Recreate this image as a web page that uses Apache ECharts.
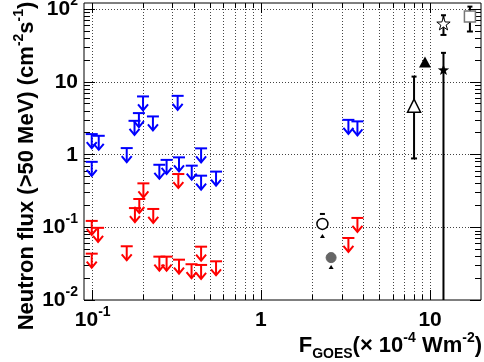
<!DOCTYPE html>
<html><head><meta charset="utf-8">
<script src="https://cdn.jsdelivr.net/npm/echarts@6/dist/echarts.min.js"></script>
<style>html,body{margin:0;padding:0;background:#fff}#c{width:484px;height:362px}</style>
</head><body><div id="c"></div>
<script>
// ---- data ----
const blueX = [0.100, 0.110, 0.100, 0.161, 0.201, 0.190, 0.179, 0.230, 0.322, 0.251, 0.277, 0.328, 0.390, 0.443, 0.443, 0.543, 3.29, 3.72];
const blueY = [1.90, 1.80, 0.79, 1.22, 6.25, 3.69, 2.89, 3.32, 6.37, 0.72, 0.84, 0.91, 0.70, 1.21, 0.51, 0.58, 2.98, 2.84];
const redX = [0.100, 0.109, 0.100, 0.161, 0.202, 0.191, 0.180, 0.231, 0.325, 0.251, 0.277, 0.328, 0.389, 0.443, 0.443, 0.543, 3.29, 3.72];
const redY = [0.122, 0.098, 0.0433, 0.0547, 0.40, 0.244, 0.183, 0.178, 0.537, 0.0394, 0.0394, 0.0358, 0.031, 0.054, 0.0303, 0.034, 0.0711, 0.134];

const pointMarker = ['openCircle', 'grayCircle', 'openTriangle', 'filledTriangle', 'filledStar', 'openStar', 'openSquare'];
const pointX = [2.31, 2.60, 8.04, 9.33, 12.0, 12.0, 17.2];
const pointY = [0.111, 0.0382, 4.6, 18.3, 14.3, 61.3, 78.2];
const pointLow = [0.0745, 0.028, 0.88, null, 0.001, 43.7, 48.7];
const pointHigh = [0.152, 0.043, 11.7, null, 24.8, 81.5, 107];

// ---- axes ----
const xMin = 0.09, xMax = 20, yMin = 0.01, yMax = 120;
const xMajor = [0.1, 1, 10];
const xLabelBase = ['10', '1', '10'];
const xLabelExp = ['-1', '', ''];
const xMinor = [0.2, 0.3, 0.4, 0.5, 0.6, 0.7, 0.8, 0.9, 2, 3, 4, 5, 6, 7, 8, 9];
const yMajor = [0.01, 0.1, 1, 10, 100];
const yLabelBase = ['10', '10', '1', '10', '10'];
const yLabelExp = ['-2', '-1', '', '', '2'];
const yMinor = [0.02, 0.03, 0.04, 0.05, 0.06, 0.07, 0.08, 0.09, 0.2, 0.3, 0.4, 0.5, 0.6, 0.7, 0.8, 0.9, 2, 3, 4, 5, 6, 7, 8, 9, 20, 30, 40, 50, 60, 70, 80, 90];
const xGrid = [0.1, 0.2, 0.3, 0.4, 0.5, 0.6, 0.7, 0.8, 0.9, 1, 2, 3, 4, 5, 6, 7, 8, 9, 10];
const yGrid = [0.1, 1, 10, 100];

const FONT = '"Liberation Sans", Arial, Helvetica, sans-serif';
const BLUE = '#0000ff', RED = '#ff0000';

function crisp(v) { return Math.round(v) + 0.5; }

function renderAxes(params, api) {
  const cs = params.coordSys;
  const L = cs.x, T = cs.y, R = cs.x + cs.width, B = cs.y + cs.height;
  const ch = [];
  const ln = (x1, y1, x2, y2, st) => ch.push({ type: 'line', shape: { x1, y1, x2, y2 }, style: st });
  const gridSt = { stroke: '#444', lineWidth: 1, lineDash: [1, 2] };
  const tickSt = { stroke: '#000', lineWidth: 1 };
  xGrid.forEach(v => { const p = crisp(api.coord([v, 1])[0]); ln(p, T, p, B, gridSt); });
  yGrid.forEach(v => { const p = crisp(api.coord([1, v])[1]); ln(L, p, R, p, gridSt); });
  xMajor.forEach(v => { const p = crisp(api.coord([v, 1])[0]); ln(p, B, p, B - 10, tickSt); ln(p, T, p, T + 10, tickSt); });
  xMinor.forEach(v => { const p = crisp(api.coord([v, 1])[0]); ln(p, B, p, B - 5, tickSt); ln(p, T, p, T + 5, tickSt); });
  yMajor.forEach(v => { const p = crisp(api.coord([1, v])[1]); ln(L, p, L + 11, p, tickSt); ln(R, p, R - 11, p, tickSt); });
  yMinor.forEach(v => { const p = crisp(api.coord([1, v])[1]); ln(L, p, L + 6, p, tickSt); ln(R, p, R - 6, p, tickSt); });
  const rich = {
    b: { fontSize: 21, fontWeight: 'bold', fontFamily: FONT, fill: '#000', lineHeight: 30 },
    s: { fontSize: 14, fontWeight: 'bold', fontFamily: FONT, fill: '#000', lineHeight: 14, verticalAlign: 'top' }
  };
  xMajor.forEach((v, i) => {
    const p = api.coord([v, 1])[0];
    const t = xLabelExp[i] ? `{b|${xLabelBase[i]}}{s|${xLabelExp[i]}}` : `{b|${xLabelBase[i]}}`;
    ch.push({ type: 'text', x: p + (xLabelExp[i] ? 1 : 0), y: B + 20, style: { text: t, rich, align: 'center', verticalAlign: 'middle', fill: '#000' } });
  });
  yMajor.forEach((v, i) => {
    const p = api.coord([1, v])[1];
    const t = yLabelExp[i] ? `{b|${yLabelBase[i]}}{s|${yLabelExp[i]}}` : `{b|${yLabelBase[i]}}`;
    ch.push({ type: 'text', x: 78, y: p + (yLabelExp[i] ? 0 : 1), style: { text: t, rich, align: 'right', verticalAlign: 'middle', fill: '#000' } });
  });
  return { type: 'group', children: ch };
}

function arrowRenderer(color) {
  return function (params, api) {
    const c = api.coord([api.value(0), api.value(1)]);
    const x = c[0], y = c[1];
    const st = { stroke: color, lineWidth: 2, fill: null };
    return {
      type: 'group', children: [
        { type: 'line', shape: { x1: x - 6, y1: y, x2: x + 6, y2: y }, style: st },
        { type: 'line', shape: { x1: x, y1: y, x2: x, y2: y + 14 }, style: st },
        { type: 'polyline', shape: { points: [[x - 5, y + 8], [x, y + 14], [x + 5, y + 8]] }, style: st }
      ]
    };
  };
}

function starPoints(cx, cy, R) {
  const r = R * 0.40, pts = [];
  for (let k = 0; k < 10; k++) {
    const a = -Math.PI / 2 + k * Math.PI / 5;
    const rr = k % 2 ? r : R;
    pts.push([cx + rr * Math.cos(a), cy + rr * Math.sin(a)]);
  }
  return pts;
}

function renderPoints(params, api) {
  const i = params.dataIndex;
  const c = api.coord([api.value(0), api.value(1)]);
  const x = c[0], y = c[1];
  const kind = pointMarker[i];
  const ch = [];
  const est = { stroke: '#000', lineWidth: 2 };
  const lo = pointLow[i], hi = pointHigh[i];
  const isCircle = kind === 'openCircle' || kind === 'grayCircle';
  if (lo != null && hi != null) {
    const yl = api.coord([api.value(0), lo])[1];
    const yh = api.coord([api.value(0), hi])[1];
    if (!isCircle) ch.push({ type: 'line', shape: { x1: x, y1: yh, x2: x, y2: yl }, style: est });
    ch.push({ type: 'line', shape: { x1: x - 2.5, y1: yh, x2: x + 2.5, y2: yh }, style: est });
    if (isCircle) {
      ch.push({ type: 'polygon', shape: { points: [[x - 2.5, yl + 1.5], [x + 2.5, yl + 1.5], [x, yl - 2.5]] }, style: { fill: '#000' } });
    } else {
      ch.push({ type: 'line', shape: { x1: x - 3, y1: yl, x2: x + 3, y2: yl }, style: est });
    }
  }
  if (kind === 'openCircle') ch.push({ type: 'circle', shape: { cx: x, cy: y, r: 5.5 }, style: { fill: '#fff', stroke: '#000', lineWidth: 1.5 } });
  if (kind === 'grayCircle') ch.push({ type: 'circle', shape: { cx: x, cy: y, r: 5 }, style: { fill: '#666', stroke: '#666', lineWidth: 1 } });
  if (kind === 'openTriangle') ch.push({ type: 'polygon', shape: { points: [[x, y - 7], [x - 6.5, y + 6], [x + 6.5, y + 6]] }, style: { fill: '#fff', stroke: '#000', lineWidth: 1.5 } });
  if (kind === 'filledTriangle') ch.push({ type: 'polygon', shape: { points: [[x, y - 6], [x - 6, y + 5], [x + 6, y + 5]] }, style: { fill: '#000' } });
  if (kind === 'filledStar') ch.push({ type: 'polygon', shape: { points: starPoints(x, y, 6) }, style: { fill: '#000' } });
  if (kind === 'openStar') ch.push({ type: 'polygon', shape: { points: starPoints(x, y, 7) }, style: { fill: '#fff', stroke: '#000', lineWidth: 1 } });
  if (kind === 'openSquare') ch.push({ type: 'rect', shape: { x: x - 5.5, y: y - 5.5, width: 11, height: 11 }, style: { fill: '#fff', stroke: '#777', lineWidth: 1.5 } });
  return { type: 'group', children: ch };
}

const chart = echarts.init(document.getElementById('c'), null, { renderer: 'canvas' });
chart.setOption({
  animation: false,
  backgroundColor: '#fff',
  grid: { left: 84, right: 3, top: 3, bottom: 62, show: true, borderColor: '#000', borderWidth: 1, backgroundColor: 'transparent' },
  xAxis: { type: 'log', min: xMin, max: xMax, logBase: 10, axisLine: { show: false }, axisTick: { show: false }, axisLabel: { show: false }, splitLine: { show: false } },
  yAxis: { type: 'log', min: yMin, max: yMax, logBase: 10, axisLine: { show: false }, axisTick: { show: false }, axisLabel: { show: false }, splitLine: { show: false } },
  graphic: [
    {
      type: 'text', x: 27, y: 166, rotation: Math.PI / 2,
      style: {
        text: '{m|Neutron flux (>50 MeV) (cm}{s|-2}{m|s}{s|-1}{m|)}',
        rich: {
          m: { fontSize: 22, fontWeight: 'bold', fontFamily: FONT, fill: '#000', lineHeight: 30 },
          s: { fontSize: 14, fontWeight: 'bold', fontFamily: FONT, fill: '#000', lineHeight: 14, verticalAlign: 'top' }
        },
        align: 'center', verticalAlign: 'middle'
      }
    },
    {
      type: 'text', x: 482, y: 346,
      style: {
        text: '{m|F}{u|GOES}{m|(× 10}{s|-4}{m| Wm}{s|-2}{m|)}',
        rich: {
          m: { fontSize: 22, fontWeight: 'bold', fontFamily: FONT, fill: '#000', lineHeight: 30 },
          s: { fontSize: 14, fontWeight: 'bold', fontFamily: FONT, fill: '#000', lineHeight: 14, verticalAlign: 'top' },
          u: { fontSize: 14, fontWeight: 'bold', fontFamily: FONT, fill: '#000', lineHeight: 14, verticalAlign: 'bottom' }
        },
        align: 'right', verticalAlign: 'middle'
      }
    }
  ],
  series: [
    { type: 'custom', name: 'axes', coordinateSystem: 'cartesian2d', clip: false, silent: true, z: 1, data: [[1, 1]], renderItem: renderAxes },
    { type: 'custom', name: 'blue', coordinateSystem: 'cartesian2d', clip: true, silent: true, z: 3, data: blueX.map((x, i) => [x, blueY[i]]), renderItem: arrowRenderer(BLUE) },
    { type: 'custom', name: 'red', coordinateSystem: 'cartesian2d', clip: true, silent: true, z: 4, data: redX.map((x, i) => [x, redY[i]]), renderItem: arrowRenderer(RED) },
    { type: 'custom', name: 'points', coordinateSystem: 'cartesian2d', clip: true, silent: true, z: 5, data: pointX.map((x, i) => [x, pointY[i]]), renderItem: renderPoints }
  ]
});
</script></body></html>
